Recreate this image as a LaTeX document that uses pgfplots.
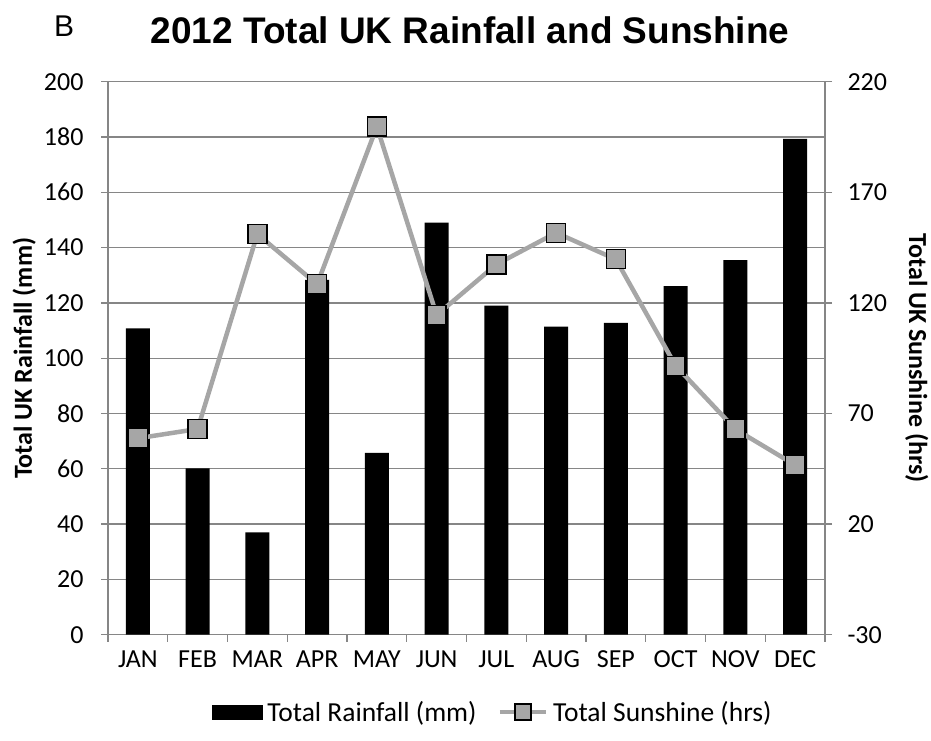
\documentclass[border=0pt]{standalone}
\usepackage{pgfplots}
\pgfplotsset{compat=1.18}
\usepackage{fontspec}
\setmainfont{Carlito}
\newfontfamily\arial{Liberation Sans}
\definecolor{gridgray}{HTML}{868686}
\definecolor{linegray}{HTML}{A6A6A6}
\pgfplotsset{
  linelegend/.style={legend image code/.code={\draw[##1, mark size=8pt, mark repeat=2, mark phase=2] plot coordinates {(0pt,0pt) (23pt,0pt) (46pt,0pt)}; \path (50pt,0pt);}},
  barlegend/.style={legend image code/.code={\fill[black] (0pt,-7pt) rectangle (50pt,7pt); \path (54pt,0pt);}},
}
\begin{document}
\begin{tikzpicture}[x=1pt,y=1pt]
\path[use as bounding box] (-108,-105.3) rectangle (823,634.7);
\pgfplotsset{
  common/.style={
    at={(0,0)}, anchor=south west,
    scale only axis, width=717pt, height=553pt,
    xmin=-0.5, xmax=11.5,
    /pgf/number format/assume math mode=true,
    tick align=outside,
    axis line style={gridgray, line width=1.3pt},
    tick style={gridgray, line width=1.3pt},
    major tick length=7pt, minor tick length=7pt,
    tick label style={font=\fontsize{26}{28}\selectfont, text=black},
  }
}
\begin{axis}[common,
  ymin=0, ymax=200, ytick={0,20,...,200},
  axis y line*=left, axis x line*=bottom,
  xtick={0,...,11},
  xticklabels={JAN,FEB,MAR,APR,MAY,JUN,JUL,AUG,SEP,OCT,NOV,DEC},
  major x tick style={draw=none},
  minor xtick={-0.5,0.5,...,11.5},
  ymajorgrids, grid style={gridgray, line width=1.3pt},
  yticklabel style={xshift=-14pt},
  xticklabel style={text height=17pt, text depth=0pt, yshift=-5pt},
  every axis y label/.style={at={(axis description cs:-0.117,0.5)}, rotate=90, anchor=center, font=\bfseries\fontsize{26}{28}\selectfont},
  ylabel={Total UK Rainfall (mm)},
  title={2012 Total UK Rainfall and Sunshine},
  title style={at={(axis description cs:0.505,1.059)}, anchor=base, yshift=0pt, font=\arial\bfseries\fontsize{37}{40}\selectfont},
]
\addplot[ybar, bar width=24pt, fill=black, draw=none] coordinates {
(0,110.8) (1,60.2) (2,37.0) (3,128.3) (4,65.8) (5,149.0)
(6,119.0) (7,111.4) (8,112.8) (9,126.1) (10,135.5) (11,179.3)};
\end{axis}
\begin{axis}[common,
  ymin=-30, ymax=220, ytick={-30,20,...,220},
  axis y line*=right, axis x line=none,
  yticklabel style={xshift=12pt},
  every axis y label/.style={at={(axis description cs:1.128,0.5)}, rotate=-90, anchor=center, font=\bfseries\fontsize{26}{28}\selectfont},
  ylabel={Total UK Sunshine (hrs)},
  legend columns=2,
  legend style={at={(axis description cs:0.536,-0.14)}, anchor=center, draw=none,
    font=\fontsize{27.5}{29}\selectfont, /tikz/every even column/.append style={column sep=20pt},
    nodes={inner sep=1pt}},
]
\addlegendimage{barlegend}
\addlegendentry{Total Rainfall (mm)}
\addplot[linegray, line width=4.5pt, mark=square*, mark size=9.5pt,
  mark options={solid, fill=linegray, draw=black, line width=1.3pt}, linelegend]
coordinates {
(0,58.8) (1,63.0) (2,151.1) (3,128.4) (4,199.7) (5,114.5)
(6,137.4) (7,151.7) (8,139.7) (9,91.6) (10,62.9) (11,46.7)};
\addlegendentry{Total Sunshine (hrs)}
\end{axis}
\node[anchor=base west, inner sep=0] at (-54,597.7) {\arial\fontsize{30}{32}\selectfont B};
\end{tikzpicture}
\end{document}
